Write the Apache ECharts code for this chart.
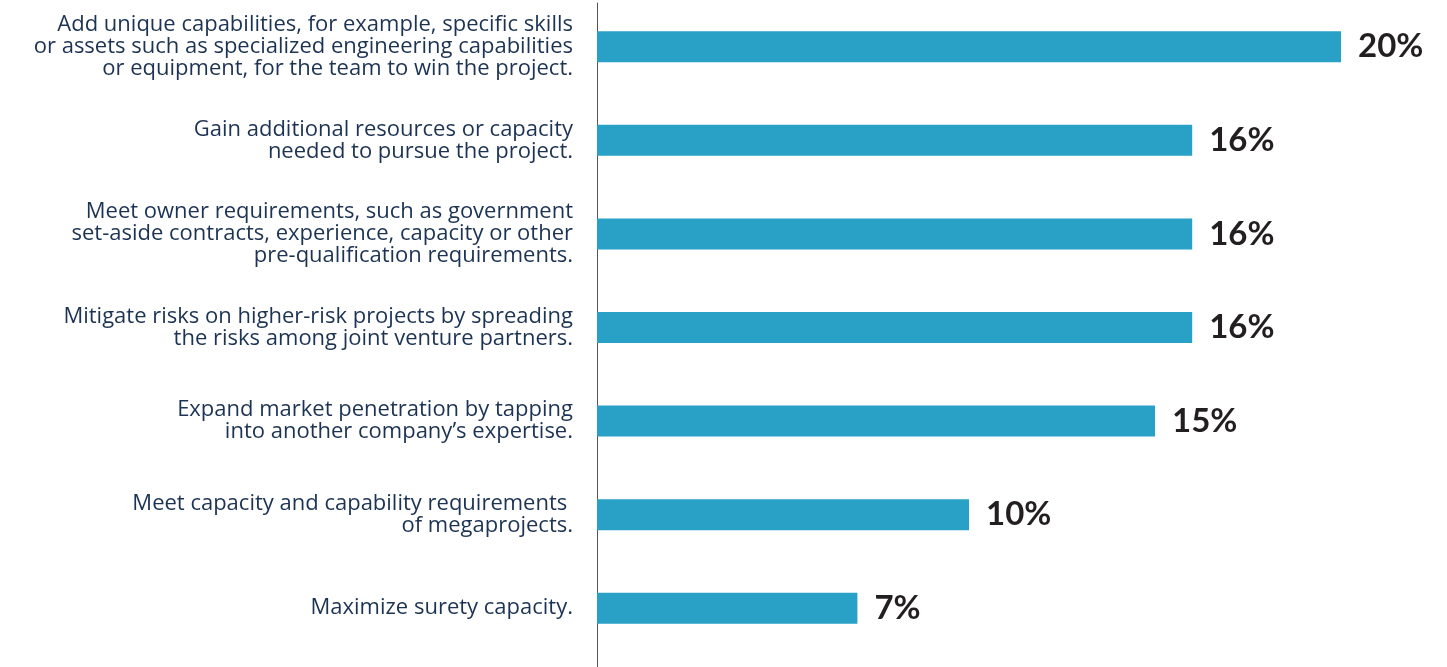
<!DOCTYPE html>
<html>
<head>
<meta charset="utf-8">
<script src="https://cdn.jsdelivr.net/npm/echarts@6/dist/echarts.min.js"></script>
<style>
  html, body { margin: 0; padding: 0; background: #fff; }
  #main { width: 1447px; height: 667px; }
</style>
</head>
<body>
<div id="main"></div>
<script>
// reasons for forming a joint venture, share of respondents (%)
var categories = [
    'Add unique capabilities, for example, specific skills\nor assets such as specialized engineering capabilities\nor equipment, for the team to win the project.',
    'Gain additional resources or capacity\nneeded to pursue the project.',
    'Meet owner requirements, such as government\nset-aside contracts, experience, capacity or other\npre-qualification requirements.',
    'Mitigate risks on higher-risk projects by spreading\nthe risks among joint venture partners.',
    'Expand market penetration by tapping\ninto another company\u2019s expertise.',
    'Meet capacity and capability requirements \nof megaprojects.',
    'Maximize surety capacity.'
];
var values = [20, 16, 16, 16, 15, 10, 7];

var myChart = echarts.init(document.getElementById('main'));

var option = {
    animation: false,
    grid: [
        // bars
        { left: 597, right: 106, top: -4, height: 659 },
        // only the vertical baseline, runs to the bottom edge
        { left: 597, right: 106, top: 3, bottom: 0 }
    ],
    xAxis: [
        { type: 'value', gridIndex: 0, min: 0, max: 20, show: false },
        { type: 'value', gridIndex: 1, min: 0, max: 20, show: false }
    ],
    yAxis: [
        {
            type: 'category',
            gridIndex: 0,
            inverse: true,
            data: categories,
            axisLine: { show: false },
            axisTick: { show: false },
            axisLabel: {
                margin: 24,
                align: 'right',
                color: '#1c3353',
                fontFamily: 'Open Sans',
                fontSize: 22,
                lineHeight: 22
            }
        },
        {
            type: 'value',
            gridIndex: 1,
            axisLine: { show: true, lineStyle: { color: '#555555', width: 1 } },
            axisTick: { show: false },
            axisLabel: { show: false },
            splitLine: { show: false }
        }
    ],
    series: [
        {
            name: 'share',
            type: 'bar',
            xAxisIndex: 0,
            yAxisIndex: 0,
            data: values,
            barWidth: 31,
            itemStyle: { color: '#29a0c6' },
            label: {
                show: true,
                position: 'right',
                distance: 17,
                formatter: '{c}%',
                color: '#231f20',
                fontFamily: 'Lato',
                fontWeight: 'bold',
                fontSize: 33
            }
        }
    ]
};

myChart.setOption(option);
window.onresize = myChart.resize;
</script>
</body>
</html>
